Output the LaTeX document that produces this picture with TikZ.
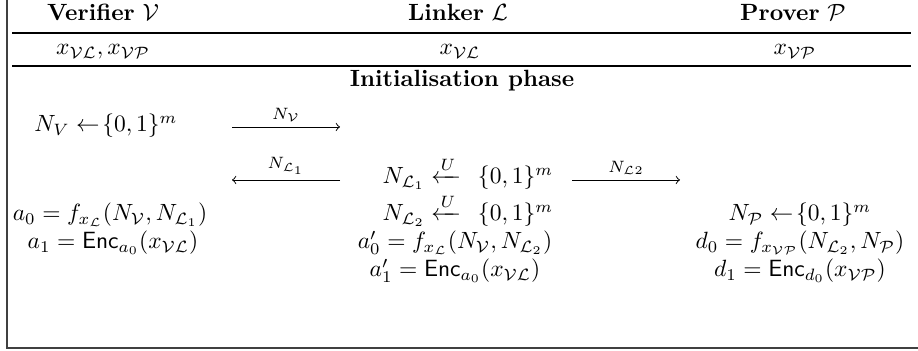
\documentclass[tikz,border=0pt]{standalone}
\usepackage{amsmath,amssymb}
\begin{document}
\begin{tikzpicture}[x=0.4255pt,y=-0.4255pt,
  txt/.style={inner sep=0pt, anchor=base},
  msg/.style={->, >=to, line width=0.4pt},
  lbl/.style={font=\scriptsize, above, inner sep=2pt},
  frame/.style={line width=0.9pt, black!75},
  rule/.style={line width=0.5pt}]
\useasboundingbox (0,0) rectangle (918,351);
% frame and rules
\coordinate (ftop) at (7,0);
\coordinate (fcorner) at (7,348);
\coordinate (fright) at (918,348);
\draw[frame] (ftop) -- (fcorner) -- (fright);
\coordinate (r1a) at (12,33); \coordinate (r1b) at (911,33);
\coordinate (r2a) at (12,66); \coordinate (r2b) at (911,66);
\draw[rule] (r1a) -- (r1b);
\draw[rule] (r2a) -- (r2b);
% headers
\node[txt] (hv) at (103,21) {\textbf{Verifier} $\mathcal{V}$};
\node[txt] (hl) at (458,21) {\textbf{Linker} $\mathcal{L}$};
\node[txt] (hp) at (793,21) {\textbf{Prover} $\mathcal{P}$};
% keys
\node[txt] (kv) at (103,55) {$x_{\mathcal{V}\mathcal{L}}, x_{\mathcal{V}\mathcal{P}}$};
\node[txt] (kl) at (460,55) {$x_{\mathcal{V}\mathcal{L}}$};
\node[txt] (kp) at (795,55) {$x_{\mathcal{V}\mathcal{P}}$};
% phase
\node[txt] (phase) at (462,87) {\textbf{Initialisation phase}};
% row 1
\node[txt] (nv) at (106,132) {$N_V \leftarrow\!\{0,1\}^m$};
\coordinate (m1s) at (232,127); \coordinate (m1e) at (340,127);
\draw[msg] (m1s) -- node[lbl] {$N_{\mathcal{V}}$} (m1e);
% row 2
\coordinate (m2s) at (340,180); \coordinate (m2e) at (232,180);
\draw[msg] (m2s) -- node[lbl] {$N_{\mathcal{L}_1}$} (m2e);
\node[txt] (nl1) at (468,184) {$N_{\mathcal{L}_1} \xleftarrow{U}\;\, \{0,1\}^m$};
\coordinate (m3s) at (572,180); \coordinate (m3e) at (680,180);
\draw[msg] (m3s) -- node[lbl] {$N_{\mathcal{L}2}$} (m3e);
% row 3
\node[txt] (a0) at (110,221) {$a_0 = f_{x_{\mathcal{L}}}(N_{\mathcal{V}}, N_{\mathcal{L}_1})$};
\node[txt] (nl2) at (468,221) {$N_{\mathcal{L}_2} \xleftarrow{U}\;\, \{0,1\}^m$};
\node[txt] (np) at (800,221) {$N_{\mathcal{P}} \leftarrow\!\{0,1\}^m$};
% row 4
\node[txt] (a1) at (113,249) {$a_1 = \mathsf{Enc}_{a_0}(x_{\mathcal{V}\mathcal{L}})$};
\node[txt] (a0p) at (455,249) {$a_0' = f_{x_{\mathcal{L}}}(N_{\mathcal{V}}, N_{\mathcal{L}_2})$};
\node[txt] (d0) at (800,249) {$d_0 = f_{x_{\mathcal{V}\mathcal{P}}}(N_{\mathcal{L}_2}, N_{\mathcal{P}})$};
% row 5
\node[txt] (a1p) at (455,277) {$a_1' = \mathsf{Enc}_{a_0}(x_{\mathcal{V}\mathcal{L}})$};
\node[txt] (d1) at (800,277) {$d_1 = \mathsf{Enc}_{d_0}(x_{\mathcal{V}\mathcal{P}})$};
\end{tikzpicture}
\end{document}
